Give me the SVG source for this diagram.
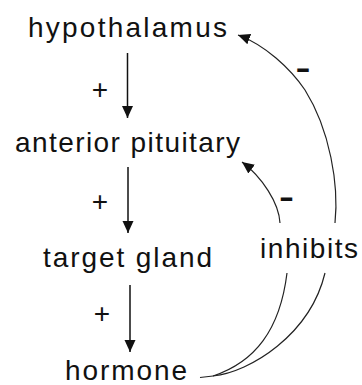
<svg xmlns="http://www.w3.org/2000/svg" width="362" height="385" viewBox="0 0 362 385">
  <style>
    .lbl { font-family: "Liberation Sans", Arial, sans-serif; font-size: 28px; fill: #111; }
    .sign { font-family: "Liberation Sans", Arial, sans-serif; font-size: 28px; fill: #111; text-anchor: middle; }
    .neg { font-family: "Liberation Sans", Arial, sans-serif; font-size: 30px; font-weight: bold; fill: #111; text-anchor: middle; }
    .edge { fill: none; stroke: #111; stroke-width: 1.5; }
    .fb { fill: none; stroke: #222; stroke-width: 1.2; }
  </style>
  <defs>
    <marker id="arrow" viewBox="-12 -6 12 12" refX="0" refY="0" markerWidth="12" markerHeight="12" markerUnits="userSpaceOnUse" orient="auto">
      <path d="M0,0 L-12,-5.5 L-12,5.5 Z" fill="#111"/>
    </marker>
  </defs>
  <rect width="362" height="385" fill="#fff"/>

  <g id="hypothalamus"><text class="lbl" x="28" y="37" textLength="199" lengthAdjust="spacing">hypothalamus</text></g>
  <g id="anterior-pituitary"><text class="lbl" x="15" y="152" textLength="225" lengthAdjust="spacing">anterior pituitary</text></g>
  <g id="target-gland"><text class="lbl" x="43" y="267" textLength="169" lengthAdjust="spacing">target gland</text></g>
  <g id="hormone"><text class="lbl" x="65" y="380" textLength="122" lengthAdjust="spacing">hormone</text></g>
  <g id="inhibits"><text class="lbl" x="260" y="258" textLength="98" lengthAdjust="spacing">inhibits</text></g>

  <g id="connectors">
    <line class="edge" x1="127.5" y1="53" x2="127.5" y2="118" marker-end="url(#arrow)"/>
    <line class="edge" x1="128" y1="167" x2="128" y2="233" marker-end="url(#arrow)"/>
    <line class="edge" x1="130" y1="285" x2="130" y2="352" marker-end="url(#arrow)"/>
    <text class="sign" x="100" y="99">+</text>
    <text class="sign" x="100" y="211">+</text>
    <text class="sign" x="102" y="323">+</text>

    <path class="fb" d="M200,377.5 L213,376"/>
    <path class="fb" d="M213,376 C255,362 280,330 287,273"/>
    <path class="fb" d="M213,376 C250,372 310,335 325,273"/>
    <path class="fb" d="M280,223 C279,203 262,177 242,162" marker-end="url(#arrow)"/>
    <path class="fb" d="M335,223 C339,185 330,130 305,90 C290,68 265,45 238,35" marker-end="url(#arrow)"/>
    <text class="neg" x="303" y="78" textLength="15" lengthAdjust="spacingAndGlyphs">-</text>
    <text class="neg" x="286.5" y="207" textLength="15" lengthAdjust="spacingAndGlyphs">-</text>
  </g>
</svg>
